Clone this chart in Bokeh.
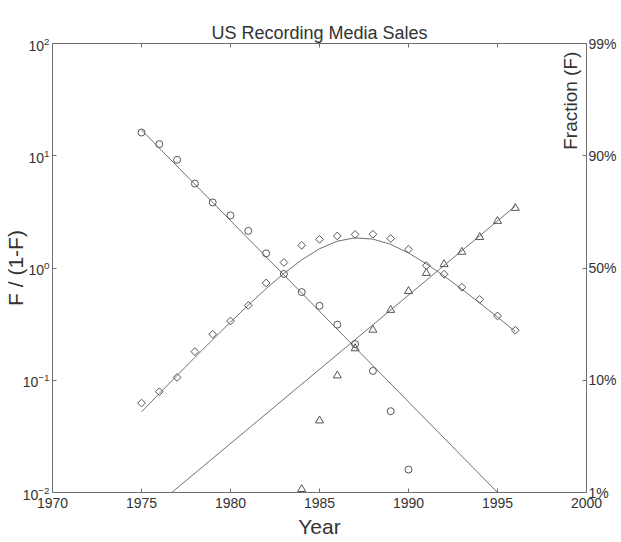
import math
from bokeh.plotting import figure
from bokeh.models import (Range1d, LogAxis, LinearAxis, FixedTicker, CustomJSTickFormatter,
                          Label, LogScale)
from bokeh.embed import file_html
from bokeh.resources import INLINE

# ---- data ----
circle_years = [1975, 1976, 1977, 1978, 1979, 1980, 1981, 1982, 1983, 1984, 1985,
                1986, 1987, 1988, 1989, 1990]
circle_vals = [16.1, 12.7, 9.2, 5.65, 3.84, 2.94, 2.14, 1.35, 0.885, 0.61, 0.46,
               0.313, 0.21, 0.121, 0.053, 0.016]

diamond_years = list(range(1975, 1997))
diamond_vals = [0.0626, 0.079, 0.106, 0.18, 0.257, 0.337, 0.464, 0.736, 1.12, 1.59, 1.8,
                1.93, 1.99, 2.0, 1.83, 1.47, 1.05, 0.88, 0.674, 0.525, 0.374, 0.279]

triangle_years = list(range(1984, 1997))
triangle_vals = [0.0107, 0.0437, 0.110, 0.192, 0.281, 0.422, 0.622, 0.90, 1.08, 1.39,
                 1.88, 2.62, 3.42]

# fitted curves
circle_fit_years = [1975, 1996]
circle_fit_vals = [16.98, 0.0069]
triangle_fit_years = [1976.7, 1996]
triangle_fit_vals = [0.01, 3.56]
diamond_fit_years = list(range(1975, 1997))
diamond_fit_vals = [0.0523, 0.0761, 0.1104, 0.1597, 0.2300, 0.3293, 0.4671, 0.6537, 0.894,
                    1.1815, 1.483, 1.734, 1.856, 1.809, 1.623, 1.361, 1.091, 0.848, 0.647,
                    0.4877, 0.3650, 0.2719]

x_ticks = [1970, 1975, 1980, 1985, 1990, 1995, 2000]
y_ticks = [0.01, 0.1, 1, 10, 100]
frac_labels = ["1%", "10%", "50%", "90%", "99%"]

FONT = "Liberation Sans"
TXT = "#333333"
AX = "#6e6e6e"
MK = "#555555"
LN = "#707070"

p = figure(width=619, height=540, output_backend="svg", toolbar_location=None,
           x_range=Range1d(1970, 2000), y_range=Range1d(0.01, 100), y_axis_type="log",
           min_border_left=40, min_border_right=31, min_border_top=43, min_border_bottom=45)
p.title.text = "US Recording Media Sales"
p.title.align = "center"
p.title.text_font = FONT
p.title.text_font_size = "18px"
p.title.text_font_style = "normal"
p.title.text_color = TXT
p.title.standoff = 2

p.xgrid.visible = False
p.ygrid.visible = False
p.outline_line_color = AX
p.background_fill_color = "white"
p.border_fill_color = "white"

def style(ax):
    ax.axis_line_color = AX
    ax.major_tick_line_color = AX
    ax.major_tick_in = 4
    ax.major_tick_out = 0
    ax.minor_tick_line_color = None
    ax.major_label_text_font = FONT
    ax.major_label_text_font_size = "14px"
    ax.major_label_text_color = TXT
    ax.axis_label_text_font = FONT
    ax.axis_label_text_font_style = "normal"
    ax.axis_label_text_color = TXT

xa = p.xaxis[0]
style(xa)
xa.ticker = FixedTicker(ticks=x_ticks)
xa.axis_label = "Year"
xa.axis_label_text_font_size = "21px"
xa.major_label_standoff = 5
xa.axis_label_standoff = 4

ya = p.yaxis[0]
style(ya)
ya.ticker = FixedTicker(ticks=y_ticks)
ya.axis_label = "F / (1-F)"
ya.axis_label_text_font_size = "21px"
ya.major_label_standoff = 3
ya.axis_label_standoff = -7

top = LinearAxis(ticker=FixedTicker(ticks=x_ticks),
                 formatter=CustomJSTickFormatter(code="return ''"))
style(top)
top.major_label_text_font_size = "0px"
top.major_label_standoff = 0
top.axis_label_standoff = 0
p.add_layout(top, "above")

p.extra_y_ranges = {"frac": Range1d(0.01, 100)}
p.extra_y_scales = {"frac": LogScale()}
ra = LogAxis(y_range_name="frac", ticker=FixedTicker(ticks=y_ticks),
             formatter=CustomJSTickFormatter(
                 args=dict(labels=frac_labels),
                 code="const e = Math.round(Math.log10(tick)); return labels[e + 2];"))
style(ra)
ra.major_label_standoff = 2
ra.axis_label_standoff = 0
p.add_layout(ra, "right")

# fits
p.line(circle_fit_years, circle_fit_vals, line_color=LN, line_width=1)
p.line(triangle_fit_years, triangle_fit_vals, line_color=LN, line_width=1)
p.line(diamond_fit_years, diamond_fit_vals, line_color=LN, line_width=1)

# markers
p.scatter(circle_years, circle_vals, marker="circle", size=7, fill_color=None,
          line_color=MK, line_width=1)
p.scatter(diamond_years, diamond_vals, marker="square", size=5.5, angle=math.pi / 4,
          fill_color=None, line_color=MK, line_width=1)
p.scatter(triangle_years, triangle_vals, marker="triangle", size=8, fill_color=None,
          line_color=MK, line_width=1)

lab = Label(x=1999.1, y=11.3, text="Fraction (F)", angle=math.pi / 2,
            text_align="left", text_baseline="middle", text_font=FONT,
            text_font_size="19px", text_color=TXT)
p.add_layout(lab)

open("out.html", "w").write(file_html(p, INLINE))
